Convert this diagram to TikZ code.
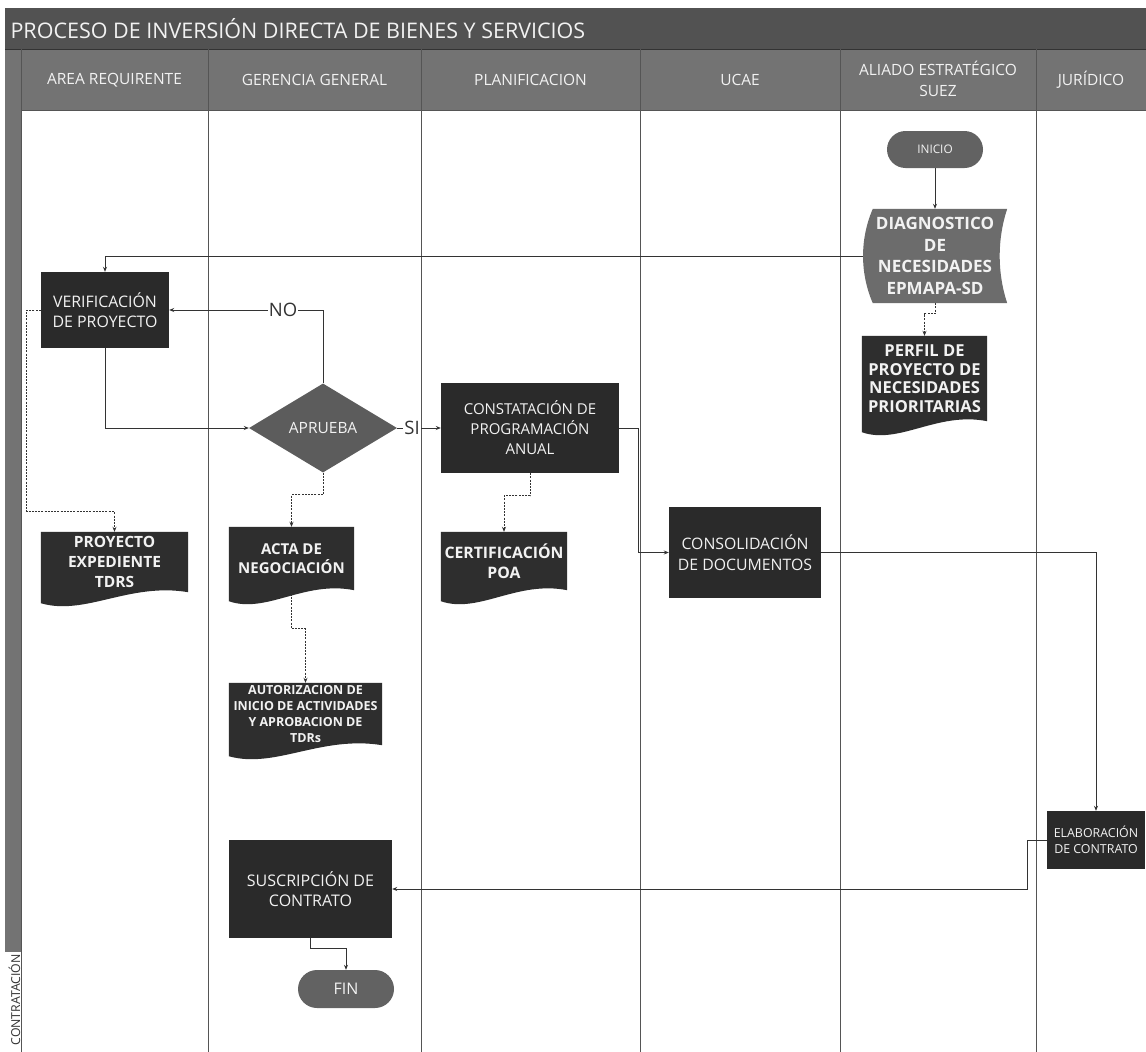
\documentclass[tikz,border=0pt]{standalone}
\usepackage{fontspec}
\setmainfont{Open Sans}
\usetikzlibrary{arrows.meta,calc,shapes.misc,shapes.geometric}
\pgfdeclarelayer{lanes}\pgfdeclarelayer{conn}\pgfdeclarelayer{shp}
\pgfsetlayers{lanes,conn,shp,main}
\definecolor{titlefill}{HTML}{525252}
\definecolor{headfill}{HTML}{737373}
\definecolor{boxfill}{HTML}{2A2A2A}
\definecolor{docfill}{HTML}{2E2E2E}
\definecolor{termfill}{HTML}{626262}
\definecolor{decfill}{HTML}{5C5C5C}
\definecolor{storefill}{HTML}{6C6C6C}
\definecolor{txtw}{HTML}{F2F2F2}
\definecolor{linec}{HTML}{333333}
\definecolor{lanec}{HTML}{555555}
\newcommand\fsz[2]{\fontsize{#1}{#2}\selectfont}
\newcommand\docshape[1]{%
  \fill[docfill] (#1.north west) -- (#1.north east) -- (#1.south east)
    .. controls ($(#1.south west)!0.6!(#1.south east)+(0,-10)$) and ($(#1.south west)!0.3!(#1.south east)+(0,24)$) .. ($(#1.south west)+(0,11)$) -- cycle;}
\tikzset{
  procbox/.style={rectangle, fill=boxfill, text=txtw, align=center, inner sep=0pt},
  docnode/.style={rectangle, text=txtw, align=center, inner sep=0pt, font=\bfseries},
  termbox/.style={rounded rectangle, fill=termfill, text=txtw, inner sep=0pt},
  decision/.style={diamond, fill=decfill, text=txtw, inner sep=0pt},
  lanehead/.style={text=txtw, align=center, font=\fsz{15.5}{21}},
  conn/.style={draw=linec, line width=0.7pt, -{Stealth[length=5pt,width=4pt]}},
  dconn/.style={conn, dash pattern=on 2pt off 1.2pt},
  flowlabel/.style={fill=white, inner sep=1pt, text=linec, font=\fsz{18.5}{20}},
}
\begin{document}
\begin{tikzpicture}[x=1pt,y=-1pt]
\useasboundingbox (0,0) rectangle (1146,1052);
\begin{pgfonlayer}{lanes}
  \fill[white] (0,0) rectangle (1146,1052);
  \fill[titlefill] (5,8) rectangle (1146,49);
  \fill[headfill] (5,49) rectangle (1146,110);
  \fill[headfill] (5,110) rectangle (21,952);
  \draw[linec, line width=0.8pt] (5,49) -- (1146,49);
  \draw[lanec, line width=0.6pt] (21,110) -- (1146,110);
  \foreach \xx in {21,208,421,640,840,1036} {
    \draw[lanec, line width=0.6pt] (\xx,49) -- (\xx,1052);
  }
\end{pgfonlayer}

% title and lane headers
\node[anchor=west, text=txtw, font=\fsz{21.5}{24}] (title) at (7,29) {PROCESO DE INVERSIÓN DIRECTA DE BIENES Y SERVICIOS};
\node[lanehead] (h1) at (114.5,80) {AREA REQUIRENTE};
\node[lanehead] (h2) at (314.5,80) {GERENCIA GENERAL};
\node[lanehead] (h3) at (530.5,80) {PLANIFICACION};
\node[lanehead] (h4) at (740,80) {UCAE};
\node[lanehead] (h5) at (938,79) {ALIADO ESTRATÉGICO\\SUEZ};
\node[lanehead] (h6) at (1091,80) {JURÍDICO};
\node[rotate=90, anchor=east, text=linec, font=\fsz{12.3}{14}, inner sep=0pt] (pool) at (14.5,954) {CONTRATACIÓN};

% process nodes
\node[termbox, minimum width=96pt, minimum height=37pt, font=\fsz{11.8}{14}] (inicio) at (935,149.5) {INICIO};
\node[docnode, minimum width=144pt, minimum height=94pt, font=\bfseries\fsz{17}{21.5}] (diag) at (935,256) {DIAGNOSTICO\\DE\\NECESIDADES\\EPMAPA-SD};
\node[docnode, minimum width=125pt, minimum height=85pt, font=\bfseries\fsz{16.5}{18.5}] (perfil) at (924.5,378.5) {PERFIL DE\\PROYECTO DE\\NECESIDADES\\PRIORITARIAS};
\node[procbox, minimum width=128pt, minimum height=76pt, font=\fsz{15.9}{19.5}] (verif) at (105,310) {VERIFICACIÓN\\DE PROYECTO};
\node[decision, minimum width=148pt, minimum height=89pt, font=\fsz{15.5}{18}] (dia) at (323,428) {APRUEBA};
\node[procbox, minimum width=178pt, minimum height=90pt, font=\fsz{15}{20}] (const) at (530,428) {CONSTATACIÓN DE\\PROGRAMACIÓN\\ANUAL};
\node[docnode, minimum width=147pt, minimum height=60pt, font=\bfseries\fsz{15.5}{20}] (proy) at (114.5,562) {PROYECTO\\EXPEDIENTE\\TDRS};
\node[docnode, minimum width=125pt, minimum height=63pt, font=\bfseries\fsz{15}{19.5}] (acta) at (291.5,558.5) {ACTA DE\\NEGOCIACIÓN};
\node[docnode, minimum width=126pt, minimum height=58pt, font=\bfseries\fsz{15.8}{20}] (cert) at (504,561) {CERTIFICACIÓN\\POA};
\node[procbox, minimum width=152pt, minimum height=91pt, font=\fsz{15.8}{21}] (consol) at (745,552.5) {CONSOLIDACIÓN\\DE DOCUMENTOS};
\node[docnode, minimum width=153pt, minimum height=62pt, font=\bfseries\fsz{12.5}{16}] (autor) at (305.5,714) {AUTORIZACION DE\\INICIO DE ACTIVIDADES\\Y APROBACION DE\\TDRs};
\node[procbox, minimum width=98pt, minimum height=58pt, font=\fsz{12.4}{16}] (elab) at (1096,840) {ELABORACIÓN\\DE CONTRATO};
\node[procbox, minimum width=163pt, minimum height=98pt, font=\fsz{16}{20}] (susc) at (310.5,889) {SUSCRIPCIÓN DE\\CONTRATO};
\node[termbox, minimum width=96pt, minimum height=38pt, font=\fsz{16}{18}] (fin) at (346,989) {FIN};

% shapes drawn below the texts
\begin{pgfonlayer}{shp}
  \fill[storefill] ($(diag.north west)+(10,0)$) -- (diag.north east)
     .. controls ($(diag.north east)+(-10,30)$) and ($(diag.south east)+(-10,-30)$) .. (diag.south east)
     -- ($(diag.south west)+(10,0)$)
     .. controls ($(diag.south west)+(-3,-30)$) and ($(diag.north west)+(-3,30)$) .. ($(diag.north west)+(10,0)$) -- cycle;
  \docshape{perfil}
  \docshape{proy}
  \docshape{acta}
  \docshape{cert}
  \docshape{autor}
\end{pgfonlayer}

% connectors
\begin{pgfonlayer}{conn}
  \draw[conn] (inicio.south) -- (diag.north);
  \draw[conn] (diag.west) -| (verif.north);
  \draw[dconn] (diag.south) |- ($(perfil.north)+(0,-22)$) -- (perfil.north);
  \draw[conn] (verif.south) |- (dia.west);
  \draw[conn] (dia.north) |- node[flowlabel, pos=0.63] {NO} (verif.east);
  \draw[conn] (dia.east) -- node[flowlabel, pos=0.34] {SI} (const.west);
  \draw[dconn] (verif.west) -- ++(-14,0) |- ($(proy.north)+(0,-20)$) -- (proy.north);
  \draw[dconn] (dia.south) |- ($(acta.north)+(0,-32)$) -- (acta.north);
  \draw[dconn] (acta.center) |- ($(autor.north)+(0,-54)$) -- (autor.north);
  \draw[dconn] (const.south) |- ($(cert.north)+(0,-36)$) -- (cert.north);
  \draw[conn] (const.east) -- ++(19,0) |- (consol.west);
  \draw[conn] (consol.east) -| (elab.north);
  \draw[conn] (elab.west) -- ++(-19,0) |- (susc.east);
  \draw[conn] (susc.south) -- ++(0,10) -| (fin.north);
\end{pgfonlayer}
\end{tikzpicture}
\end{document}
